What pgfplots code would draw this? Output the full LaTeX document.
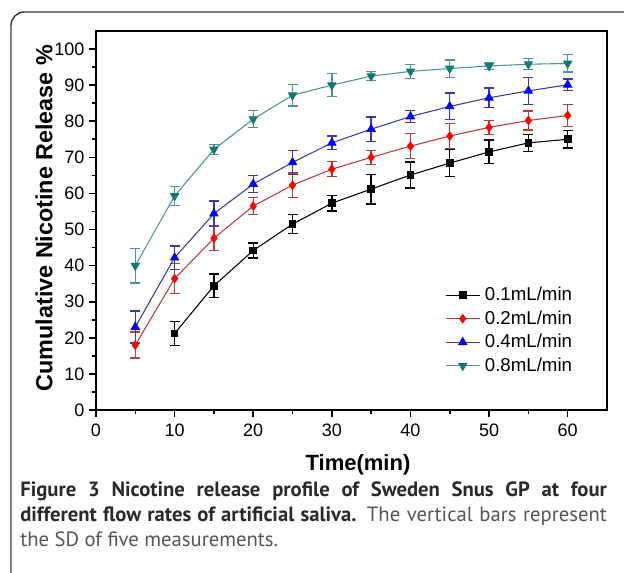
\documentclass[border=0pt]{standalone}
\usepackage{fontspec}
\setmainfont{Liberation Sans}
\newfontfamily\capfont{PT Sans}
\usepackage{pgfplots}
\pgfplotsset{compat=1.18}

\definecolor{redline}{HTML}{B83A3A}
\definecolor{blueline}{HTML}{3A3AA5}
\definecolor{tealmark}{HTML}{127A70}
\definecolor{tealline}{HTML}{4A968E}
\definecolor{boxgray}{HTML}{3A3A3A}
\definecolor{capbold}{HTML}{2A2A2A}
\definecolor{captext}{HTML}{555555}

% time, mean, SD
\pgfplotstableread{
x y e
10 21.2 3.4
15 34.4 3.3
20 44.2 2.1
25 51.5 2.6
30 57.3 2.2
35 61.2 4.1
40 65.1 3.6
45 68.4 3.8
50 71.5 3.3
55 74.0 2.3
60 75.0 2.4
}\flowa
\pgfplotstableread{
x y e
5 18.0 3.6
10 36.4 4.2
15 47.6 3.5
20 56.5 2.3
25 62.3 3.4
30 66.7 2.1
35 70.0 1.9
40 73.1 3.5
45 75.9 3.5
50 78.3 1.9
55 80.2 2.6
60 81.6 3.0
}\flowb
\pgfplotstableread{
x y e
5 23.0 4.4
10 42.2 3.2
15 54.4 3.5
20 62.6 2.4
25 68.6 3.3
30 74.0 1.9
35 77.8 3.4
40 81.3 1.6
45 84.1 3.7
50 86.5 2.7
55 88.4 3.8
60 90.1 1.6
}\flowc
\pgfplotstableread{
x y e
5 40.0 4.8
10 59.3 2.7
15 72.2 1.4
20 80.6 2.4
25 87.2 3.0
30 90.0 3.2
35 92.5 1.2
40 93.8 1.9
45 94.6 2.4
50 95.3 1.0
55 95.8 1.5
60 96.0 2.4
}\flowd

\begin{document}
\begin{tikzpicture}
\begin{axis}[
    name=ax,
    scale only axis,
    width=383.25pt, height=284.25pt,
    xmin=0, xmax=65, ymin=0, ymax=105,
    xtick={0,10,...,60}, ytick={0,10,...,100},
    minor x tick num=1, minor y tick num=1,
    xtick pos=bottom, ytick pos=left,
    tick align=outside,
    major tick length=5.25pt, minor tick length=3pt,
    axis line style={line width=1.5pt},
    every tick/.style={black, line width=1.2pt},
    tick label style={font=\fontsize{13.5}{15}\selectfont},
    xticklabel style={yshift=-2pt},
    /pgf/number format/assume math mode=true,
    legend style={draw=none, fill=none, at={(0.675,0.333)}, anchor=north west,
        font=\fontsize{14}{16}\selectfont, row sep=5pt, column sep=3pt,
        nodes={inner sep=0.5pt}},
    legend cell align=left,
    legend image code/.code={\draw[mark repeat=2, mark phase=2]
        plot coordinates {(0pt,0pt) (12.75pt,0pt) (25.5pt,0pt)};},
    every axis plot/.append style={line width=0.8pt},
    error bars/error bar style={line width=1pt},
    error bars/error mark options={rotate=90, mark size=3.75pt, line width=1pt},
]
\addplot[black, mark=square*, mark size=2.5pt, mark options={solid, fill=black},
    error bars/.cd, y dir=both, y explicit]
    table[x=x, y=y, y error=e] {\flowa};
\addplot[redline, mark=diamond*, mark size=3pt, mark options={solid, fill=red, draw=red},
    error bars/.cd, y dir=both, y explicit]
    table[x=x, y=y, y error=e] {\flowb};
\addplot[blueline, mark=triangle*, mark size=3.4pt, mark options={solid, fill=blue, draw=blue},
    error bars/.cd, y dir=both, y explicit]
    table[x=x, y=y, y error=e] {\flowc};
\addplot[tealline, mark=triangle*, mark size=3.4pt, mark options={solid, rotate=180, fill=tealmark, draw=tealmark},
    error bars/.cd, y dir=both, y explicit]
    table[x=x, y=y, y error=e] {\flowd};
\legend{0.1mL/min, 0.2mL/min, 0.4mL/min, 0.8mL/min}
\end{axis}

% frame, axis titles and caption, placed in image pixels
\begin{scope}[shift={(ax.south west)}, x=0.75pt, y=-0.75pt, shift={(-96,-410)}]
\draw[boxgray, line width=1.1pt, rounded corners=10pt] (11,620) -- (11,12) -- (660,12);
\node[rotate=90, font=\bfseries\fontsize{17.5}{20}\selectfont] at (44,218)
    {Cumulative Nicotine Release \%};
\node[font=\bfseries\fontsize{16.5}{20}\selectfont] at (358,465) {Time(min)};
\node[anchor=north west, text width=440pt, align=justify, inner sep=0pt,
      font=\capfont\fontsize{15.5}{19.1}\selectfont, text=captext] at (20,481)
    {\hyphenpenalty=10000\tolerance=9999\textcolor{capbold}{\bfseries Figure 3 Nicotine release profile of Sweden Snus GP at four\linebreak
     different flow rates of artificial saliva.} The vertical bars represent\linebreak
     the SD of five measurements.};
\pgfresetboundingbox
\useasboundingbox (0,0) rectangle (624,573);
\end{scope}
\end{tikzpicture}
\end{document}
